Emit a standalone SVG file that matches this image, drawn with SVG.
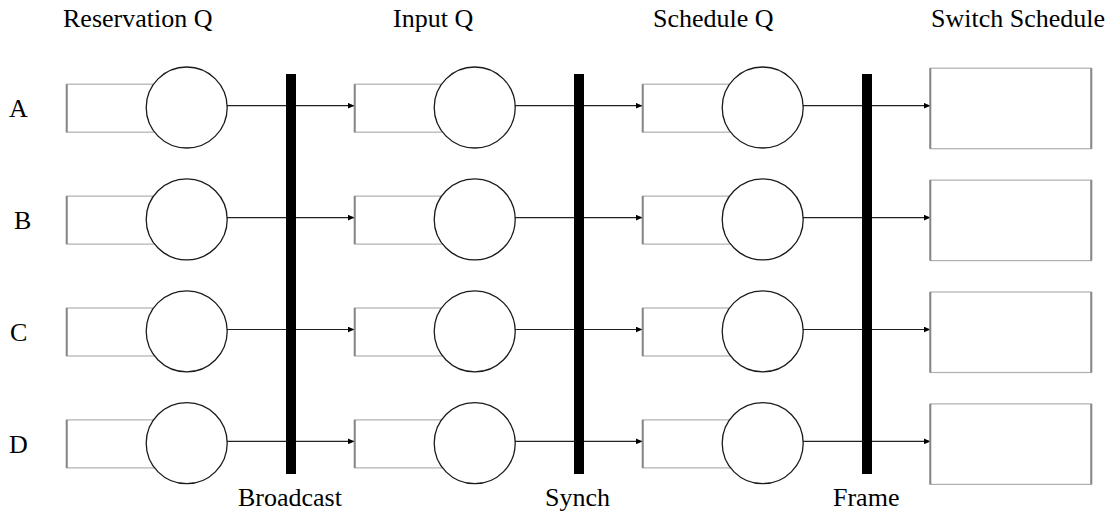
<svg xmlns="http://www.w3.org/2000/svg" width="1113" height="512" viewBox="0 0 1113 512">
<style>
.lbl{font-family:"Liberation Serif","Times New Roman",serif;font-size:26px;fill:#000}
.qbox{fill:#fff;stroke:#b0b0b0;stroke-width:1.2}
.qside{stroke:#858585;stroke-width:2}
.place{fill:#fff;stroke:#1a1a1a;stroke-width:1.3}
.bar{fill:#000}
.conn{stroke:#222;stroke-width:1.2;fill:none;marker-end:url(#ah)}
</style>
<defs>
<marker id="ah" markerWidth="8" markerHeight="6" refX="7" refY="3" orient="auto" markerUnits="userSpaceOnUse">
<path d="M0,0 L7,3 L0,6 Z" fill="#000"/>
</marker>
<g id="queue">
<rect class="qbox" x="0" y="-21.5" width="120" height="48"/>
<line class="qside" x1="0" y1="-21.5" x2="0" y2="26.5"/>
<circle class="place" cx="120" cy="1.8" r="40.5"/>
</g>
<g id="swbox">
<rect class="qbox" x="0" y="-37.5" width="161" height="80.5"/>
<line class="qside" x1="0" y1="-37.5" x2="0" y2="43"/>
<line class="qside" x1="161" y1="-37.5" x2="161" y2="43"/>
</g>
</defs>

<g id="labels">
<text class="lbl" x="63" y="27">Reservation Q</text>
<text class="lbl" x="393" y="27">Input Q</text>
<text class="lbl" x="653" y="27">Schedule Q</text>
<text class="lbl" x="931" y="27">Switch Schedule</text>
<text class="lbl" x="9" y="117">A</text>
<text class="lbl" x="14" y="229">B</text>
<text class="lbl" x="10" y="341">C</text>
<text class="lbl" x="9" y="453">D</text>
<text class="lbl" x="238" y="506">Broadcast</text>
<text class="lbl" x="545" y="506">Synch</text>
<text class="lbl" x="833" y="506">Frame</text>
</g>

<g id="connectors">
<line class="conn" x1="227" y1="105.7" x2="354.5" y2="105.7"/>
<line class="conn" x1="515" y1="105.7" x2="642.5" y2="105.7"/>
<line class="conn" x1="803" y1="105.7" x2="930.5" y2="105.7"/>
<line class="conn" x1="227" y1="217.6" x2="354.5" y2="217.6"/>
<line class="conn" x1="515" y1="217.6" x2="642.5" y2="217.6"/>
<line class="conn" x1="803" y1="217.6" x2="930.5" y2="217.6"/>
<line class="conn" x1="227" y1="329.5" x2="354.5" y2="329.5"/>
<line class="conn" x1="515" y1="329.5" x2="642.5" y2="329.5"/>
<line class="conn" x1="803" y1="329.5" x2="930.5" y2="329.5"/>
<line class="conn" x1="227" y1="441.4" x2="354.5" y2="441.4"/>
<line class="conn" x1="515" y1="441.4" x2="642.5" y2="441.4"/>
<line class="conn" x1="803" y1="441.4" x2="930.5" y2="441.4"/>
</g>

<g id="resA"><use href="#queue" x="66.7" y="105.7"/></g>
<g id="inA"><use href="#queue" x="354.7" y="105.7"/></g>
<g id="schA"><use href="#queue" x="642.7" y="105.7"/></g>
<g id="swA"><use href="#swbox" x="930.3" y="105.7"/></g>

<g id="resB"><use href="#queue" x="66.7" y="217.6"/></g>
<g id="inB"><use href="#queue" x="354.7" y="217.6"/></g>
<g id="schB"><use href="#queue" x="642.7" y="217.6"/></g>
<g id="swB"><use href="#swbox" x="930.3" y="217.6"/></g>

<g id="resC"><use href="#queue" x="66.7" y="329.5"/></g>
<g id="inC"><use href="#queue" x="354.7" y="329.5"/></g>
<g id="schC"><use href="#queue" x="642.7" y="329.5"/></g>
<g id="swC"><use href="#swbox" x="930.3" y="329.5"/></g>

<g id="resD"><use href="#queue" x="66.7" y="441.4"/></g>
<g id="inD"><use href="#queue" x="354.7" y="441.4"/></g>
<g id="schD"><use href="#queue" x="642.7" y="441.4"/></g>
<g id="swD"><use href="#swbox" x="930.3" y="441.4"/></g>

<g id="broadcast"><rect class="bar" x="286" y="74" width="10" height="400"/></g>
<g id="synch"><rect class="bar" x="574" y="74" width="10" height="400"/></g>
<g id="frame"><rect class="bar" x="862" y="74" width="10" height="400"/></g>
</svg>
